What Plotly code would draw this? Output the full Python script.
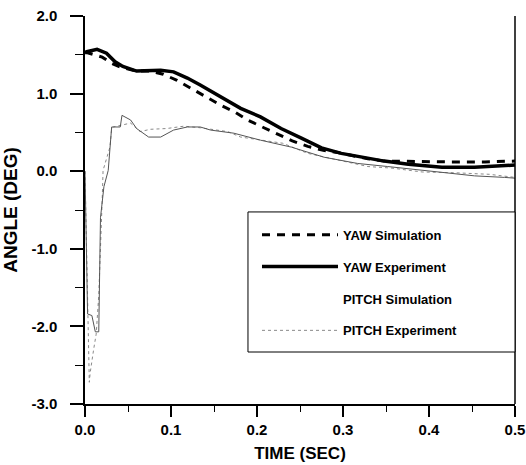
import plotly.graph_objects as go

# ---- data ----
yaw_sim_t = [0.0, 0.002, 0.020, 0.031, 0.039, 0.060, 0.076, 0.091, 0.107, 0.126, 0.142, 0.158,
             0.173, 0.189, 0.208, 0.224, 0.241, 0.259, 0.277, 0.294, 0.329, 0.348, 0.388,
             0.426, 0.465, 0.5]
yaw_sim_y = [1.52, 1.53, 1.47, 1.39, 1.35, 1.29, 1.29, 1.25, 1.17, 1.05, 0.96, 0.85,
             0.77, 0.66, 0.56, 0.48, 0.39, 0.32, 0.27, 0.24, 0.16, 0.13, 0.12,
             0.12, 0.12, 0.13]

yaw_exp_t = [0.0, 0.002, 0.014, 0.025, 0.035, 0.044, 0.060, 0.088, 0.103, 0.119, 0.134, 0.158,
             0.181, 0.204, 0.228, 0.251, 0.275, 0.298, 0.321, 0.348, 0.376, 0.415, 0.453, 0.5]
yaw_exp_y = [1.53, 1.54, 1.57, 1.52, 1.41, 1.35, 1.29, 1.30, 1.28, 1.20, 1.11, 0.96,
             0.81, 0.70, 0.55, 0.43, 0.30, 0.23, 0.18, 0.13, 0.09, 0.05, 0.05, 0.08]

pitch_sim_t = [0.0, 0.003, 0.008, 0.012, 0.016, 0.018, 0.022, 0.027, 0.031, 0.041, 0.043,
               0.053, 0.060, 0.074, 0.088, 0.103, 0.119, 0.134, 0.146, 0.173, 0.204, 0.240,
               0.278, 0.317, 0.352, 0.391, 0.423, 0.453, 0.488, 0.5]
pitch_sim_y = [0.0, -1.84, -1.86, -2.07, -2.07, -0.60, -0.20, 0.01, 0.57, 0.57, 0.72,
               0.66, 0.55, 0.44, 0.44, 0.53, 0.57, 0.57, 0.53, 0.49, 0.40, 0.31,
               0.18, 0.10, 0.06, 0.01, -0.03, -0.06, -0.08, -0.09]

pitch_exp_t = [0.0, 0.004, 0.005, 0.006, 0.008, 0.010, 0.013, 0.016, 0.020, 0.021, 0.029,
               0.031, 0.033, 0.053, 0.064, 0.076, 0.095, 0.115, 0.134, 0.166, 0.181, 0.204,
               0.230, 0.259, 0.298, 0.329, 0.357, 0.392, 0.430, 0.470, 0.5]
pitch_exp_y = [0.0, -2.15, -2.72, -2.60, -2.41, -2.30, -2.10, -1.60, -0.37, 0.01, 0.31,
               0.55, 0.57, 0.62, 0.51, 0.54, 0.55, 0.58, 0.56, 0.51, 0.44, 0.40,
               0.36, 0.23, 0.14, 0.06, 0.04, -0.01, -0.02, -0.04, -0.08]

x_ticks = [0.0, 0.1, 0.2, 0.3, 0.4, 0.5]
x_labels = ["0.0", "0.1", "0.2", "0.3", "0.4", "0.5"]
y_ticks = [-3.0, -2.0, -1.0, 0.0, 1.0, 2.0]
y_labels = ["-3.0", "-2.0", "-1.0", "0.0", "1.0", "2.0"]

FONT = "Liberation Sans, Arial, sans-serif"

fig = go.Figure()
fig.add_trace(go.Scatter(x=pitch_exp_t, y=pitch_exp_y, mode="lines", name="PITCH Experiment",
                         line=dict(color="#8a8a8a", width=1, dash="dot"),
                         legendgroup="d", legendrank=4))
fig.add_trace(go.Scatter(x=pitch_sim_t, y=pitch_sim_y, mode="lines", showlegend=False,
                         line=dict(color="#555555", width=1)))
fig.add_trace(go.Scatter(x=[None], y=[None], mode="lines", name="PITCH Simulation",
                         line=dict(color="rgba(0,0,0,0)", width=1),
                         legendgroup="c", legendrank=3))
fig.add_trace(go.Scatter(x=yaw_sim_t, y=yaw_sim_y, mode="lines", name="YAW Simulation",
                         line=dict(color="black", width=3, dash="8px,7px"),
                         legendgroup="a", legendrank=1))
fig.add_trace(go.Scatter(x=yaw_exp_t, y=yaw_exp_y, mode="lines", name="YAW Experiment",
                         line=dict(color="black", width=3.5),
                         legendgroup="b", legendrank=2))

fig.update_layout(
    width=526, height=465,
    margin=dict(l=85, r=11, t=16, b=61, autoexpand=False),
    paper_bgcolor="white", plot_bgcolor="white",
    font=dict(family=FONT, color="black"),
    showlegend=True,
    legend=dict(x=0.40, y=0.475, xanchor="left", yanchor="top",
                bgcolor="rgba(0,0,0,0)", borderwidth=0,
                font=dict(family=FONT, size=13, color="black", weight="bold"),
                tracegroupgap=12, itemwidth=76,
                traceorder="grouped"),
    xaxis=dict(range=[0, 0.5], tickvals=x_ticks, ticktext=x_labels, automargin=False,
               showgrid=False, zeroline=False, showline=True, linecolor="black", linewidth=1.5,
               ticks="outside", ticklen=11, tickwidth=1.5, tickcolor="black",
               minor=dict(dtick=0.05, ticks="outside", ticklen=6, tickwidth=1, tickcolor="black"),
               tickfont=dict(family=FONT, size=15, weight="bold"),
               title=dict(text="TIME (SEC)", font=dict(family=FONT, size=17, weight="bold"),
                          standoff=10)),
    yaxis=dict(range=[-3, 2], tickvals=y_ticks, ticktext=y_labels, automargin=False,
               showgrid=False, zeroline=False, showline=True, linecolor="black", linewidth=1.5,
               ticks="outside", ticklen=13, tickwidth=1.5, tickcolor="black",
               minor=dict(dtick=0.5, ticks="outside", ticklen=8, tickwidth=1, tickcolor="black"),
               tickfont=dict(family=FONT, size=15, weight="bold"),
               ticklabelstandoff=10,
               title=dict(text="ANGLE (DEG)", font=dict(family=FONT, size=19, weight="bold"),
                          standoff=10)),
)
# right frame line and legend box outline
fig.add_shape(type="line", xref="paper", yref="paper", x0=1, x1=1, y0=0, y1=1,
              line=dict(color="black", width=1.5))
fig.add_shape(type="rect", xref="paper", yref="paper", x0=0.379, x1=1, y0=0.134, y1=0.495,
              line=dict(color="black", width=1), fillcolor="white", layer="above")

fig.write_html("out.html")
